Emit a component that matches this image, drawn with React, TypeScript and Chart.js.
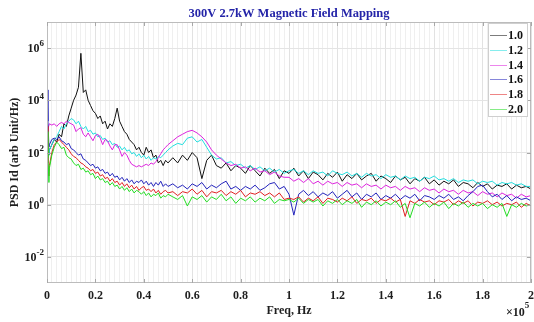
import React, { useEffect, useRef } from "react";
import { Chart, registerables } from "chart.js";

Chart.register(...registerables);

const TITLE = "300V 2.7kW Magnetic Field Mapping";
const X_LABEL = "Freq, Hz";
const Y_LABEL = "PSD Id (arb Unit/Hz)";
const X_EXP_LABEL = "5";
const SERIES_LABELS = ["1.0", "1.2", "1.4", "1.6", "1.8", "2.0"];
const SERIES_COLORS = ["#111111", "#22dede", "#dd22dd", "#2222bb", "#e02020", "#22dd22"];
const Y_TICK_EXPONENTS = [-2, 0, 2, 4, 6];
const Y_MIN = 1e-3;
const Y_MAX = 1e7;
const X_MAX = 2e5;
const X_MAJOR_STEP = 2e4;
const X_MINOR_STEP = 2e3;

// frequency, in units of 1e5 Hz
const FREQ_E5 = [
  0, 0.004, 0.008,
  0.01, 0.02, 0.03, 0.04, 0.05, 0.06, 0.07, 0.08, 0.09, 0.10,
  0.11, 0.12, 0.13, 0.14, 0.15, 0.16, 0.17, 0.18, 0.19, 0.20,
  0.21, 0.22, 0.23, 0.24, 0.25, 0.26, 0.27, 0.28, 0.29, 0.30,
  0.31, 0.32, 0.33, 0.34, 0.35, 0.36, 0.37, 0.38, 0.39, 0.40,
  0.41, 0.42, 0.43, 0.44, 0.45, 0.46, 0.47, 0.48, 0.49, 0.50,
  0.52, 0.54, 0.56, 0.58, 0.60, 0.62, 0.64, 0.66, 0.68, 0.70,
  0.72, 0.74, 0.76, 0.78, 0.80, 0.82, 0.84, 0.86, 0.88, 0.90,
  0.92, 0.94, 0.96, 0.98, 1.00, 1.02, 1.04, 1.06, 1.08, 1.10,
  1.12, 1.14, 1.16, 1.18, 1.20, 1.22, 1.24, 1.26, 1.28, 1.30,
  1.32, 1.34, 1.36, 1.38, 1.40, 1.42, 1.44, 1.46, 1.48, 1.50,
  1.52, 1.54, 1.56, 1.58, 1.60, 1.62, 1.64, 1.66, 1.68, 1.70,
  1.72, 1.74, 1.76, 1.78, 1.80, 1.82, 1.84, 1.86, 1.88, 1.90,
  1.92, 1.94, 1.96, 1.98, 2.00,
];

// log10 of PSD for each series
const LOG_PSD_10 = [
  2.8, 2.2, 1.9,
  2.1, 2.3, 2.5, 2.4, 2.7, 2.6, 3.1, 3.0, 3.4, 3.7,
  4.0, 4.2, 4.5, 5.8, 4.3, 4.4, 4.0, 3.8, 3.6, 3.5,
  3.3, 3.4, 3.1, 3.2, 2.9, 3.1, 3.0, 3.3, 3.7, 3.2,
  3.0, 2.8, 2.7, 2.5, 2.4, 2.3, 2.1, 2.2, 2.0, 1.9,
  2.2, 2.0, 2.1, 1.8, 1.9, 1.6, 1.7, 1.5, 1.7, 1.6,
  1.8, 1.6, 1.9, 1.7, 2.0, 1.8, 1.0, 1.7, 1.9, 1.5,
  1.4, 1.6, 1.3, 1.5, 1.4, 1.2, 1.5, 1.3, 1.1, 1.4,
  1.2, 1.35, 1.0, 1.3, 1.2, 1.4, 1.1, 1.3, 1.0, 1.25,
  1.15, 0.95, 1.2, 1.05, 1.25, 0.9, 1.15, 1.0, 1.2, 0.95,
  1.1, 1.2, 0.9, 1.1, 1.0, 0.85, 1.1, 0.95, 1.05, 0.8,
  1.0, 0.9, 1.05, 0.8, 0.95, 0.75, 0.9, 0.8, 0.95, 0.7,
  0.85, 0.8, 0.65, 0.85, 0.7, 0.8, 0.6, 0.75, 0.7, 0.8,
  0.6, 0.75, 0.65, 0.7, 0.6,
];

const LOG_PSD_12 = [
  2.6, 2.0, 1.9,
  2.1, 2.3, 2.5, 2.6, 2.8, 3.0, 2.9, 3.1, 3.2, 3.3,
  3.25, 3.1, 3.2, 3.0, 2.9, 3.0, 2.8, 2.85, 2.7, 2.75,
  2.6, 2.65, 2.5, 2.55, 2.4, 2.45, 2.3, 2.35, 2.2, 2.25,
  2.1, 2.2, 2.05, 2.1, 1.95, 2.0, 1.85, 1.95, 1.8, 1.9,
  1.75, 1.85, 1.7, 1.8, 1.75, 1.85, 1.8, 1.9, 2.0, 2.1,
  2.25, 2.35, 2.3, 2.55, 2.6, 2.4, 2.5, 2.2, 1.9, 1.75,
  1.8, 1.6, 1.65, 1.5, 1.55, 1.4, 1.5, 1.35, 1.45, 1.3,
  1.4, 1.25, 1.35, 1.2, 1.3, 1.35, 1.2, 1.3, 1.15, 1.3,
  1.2, 1.25, 1.1, 1.3, 1.2, 1.15, 1.25, 1.1, 1.2, 1.05,
  1.2, 1.1, 1.15, 1.0, 1.15, 1.05, 1.1, 0.95, 1.1, 1.0,
  1.05, 0.9, 1.05, 1.0, 1.1, 0.95, 1.0, 0.9, 1.0, 0.85,
  0.95, 0.9, 0.95, 0.8, 0.9, 0.85, 0.9, 0.75, 0.85, 0.8,
  0.85, 0.75, 0.8, 0.7, 0.7,
];

const LOG_PSD_14 = [
  2.2, 2.9, 3.05,
  3.1, 3.05, 3.1, 3.0, 3.1, 3.15, 3.1, 3.2, 3.15, 3.1,
  3.05, 2.8, 2.9, 2.95, 2.7, 2.6, 2.75, 2.6, 2.45, 2.65,
  2.7, 2.55, 2.3, 2.5, 2.45, 2.25, 2.1, 2.3, 2.3, 2.1,
  1.85, 2.0, 1.9, 1.7, 1.55, 1.5, 1.45, 1.5, 1.45, 1.5,
  1.55, 1.5, 1.6, 1.55, 1.65, 1.8, 1.95, 2.1, 2.2, 2.3,
  2.45, 2.6, 2.7, 2.8, 2.85, 2.75, 2.6, 2.4, 2.1, 1.9,
  1.75, 1.6, 1.5, 1.55, 1.4, 1.45, 1.3, 1.4, 1.25, 1.3,
  1.15, 1.25, 1.1, 1.05, 1.05, 0.9, 1.0, 0.85, 1.0, 0.8,
  0.9, 0.75, 0.9, 0.8, 0.85, 0.7, 0.85, 0.75, 0.8, 0.65,
  0.8, 0.7, 0.75, 0.6, 0.75, 0.65, 0.7, 0.55, 0.7, 0.6,
  0.65, 0.5, 0.65, 0.55, 0.6, 0.45, 0.6, 0.5, 0.55, 0.4,
  0.55, 0.45, 0.5, 0.35, 0.5, 0.4, 0.45, 0.3, 0.45, 0.35,
  0.4, 0.25, 0.4, 0.3, 0.35,
];

const LOG_PSD_16 = [
  4.4, 3.2, 2.2,
  2.3, 2.5, 2.55, 2.5, 2.6, 2.45, 2.4, 2.3, 2.35, 2.15,
  2.1, 2.0, 1.9, 1.95, 1.75, 1.7, 1.6, 1.5, 1.55, 1.4,
  1.45, 1.3, 1.35, 1.2, 1.25, 1.1, 1.2, 1.05, 1.1, 0.95,
  1.05, 0.9, 1.0, 0.85, 0.95, 0.8, 0.9, 0.85, 0.95, 0.8,
  0.9, 0.75, 0.85, 0.7, 0.85, 0.75, 0.9, 0.7, 0.8, 0.7,
  0.8, 0.65, 0.75, 0.6, 0.8, 0.7, 0.85, 0.6, 0.75, 0.65,
  0.8, 0.9, 0.6, 0.7, 0.55, 0.7, 0.6, 0.75, 0.55, 0.65,
  0.8, 0.85, 0.6, 0.7, 0.4, -0.4, 0.4, 0.55, 0.35, 0.5,
  0.3, 0.45, 0.35, 0.5, 0.25, 0.4, 0.55, 0.3, 0.45, 0.2,
  0.4, 0.3, 0.45, 0.2, 0.35, 0.25, 0.4, 0.2, 0.35, 0.25,
  0.4, 0.15, 0.35, 0.3, 0.2, 0.35, 0.25, 0.4, 0.2, 0.3,
  0.15, 0.35, 0.5, 0.7, 0.75, 0.5, 0.3, 0.4, 0.2, 0.35,
  0.15, 0.3, 0.2, 0.25, 0.15,
];

const LOG_PSD_18 = [
  3.0, 1.6, 1.1,
  1.5, 2.0, 2.3, 2.4, 2.5, 2.4, 2.3, 2.2, 2.1, 1.95,
  1.85, 1.8, 1.7, 1.6, 1.55, 1.45, 1.4, 1.3, 1.35, 1.2,
  1.25, 1.1, 1.15, 1.0, 1.05, 0.9, 1.0, 0.85, 0.9, 0.75,
  0.85, 0.7, 0.8, 0.65, 0.75, 0.6, 0.7, 0.55, 0.65, 0.7,
  0.55, 0.6, 0.5, 0.6, 0.45, 0.55, 0.4, 0.5, 0.55, 0.45,
  0.5, 0.35, 0.5, 0.45, 0.6, 0.4, 0.55, 0.3, 0.5, 0.45,
  0.55, 0.35, 0.5, 0.4, 0.55, 0.3, 0.45, 0.4, 0.5, 0.35,
  0.45, 0.3, 0.45, 0.2, 0.25, 0.2, 0.3, 0.1, 0.25, 0.15,
  0.3, 0.05, 0.25, 0.2, 0.1, 0.25, 0.15, 0.3, 0.05, 0.2,
  0.15, 0.25, 0.05, 0.2, 0.15, 0.25, 0.1, 0.2, -0.45, 0.15,
  0.05, 0.2, 0.1, 0.15, 0.0, 0.15, 0.1, 0.2, 0.0, 0.15,
  0.05, 0.15, -0.05, 0.1, 0.05, 0.15, 0.0, 0.1, -0.05, 0.05,
  0.0, 0.1, -0.1, 0.05, -0.05,
];

const LOG_PSD_20 = [
  2.8, 1.8, 0.85,
  1.4, 1.9, 2.2, 2.4, 2.3, 2.15, 2.2, 1.9, 1.8, 1.75,
  1.6, 1.5, 1.55, 1.35, 1.4, 1.25, 1.3, 1.15, 1.2, 1.0,
  1.1, 0.95, 1.0, 0.85, 0.9, 0.75, 0.85, 0.7, 0.75, 0.6,
  0.7, 0.55, 0.65, 0.5, 0.6, 0.45, 0.55, 0.5, 0.4, 0.5,
  0.35, 0.45, 0.3, 0.4, 0.35, 0.45, 0.25, 0.35, 0.3, 0.4,
  0.3, 0.2, 0.35, -0.05, 0.3, 0.2, 0.35, 0.1, 0.3, 0.2,
  0.4, 0.15, 0.3, 0.05, 0.25, 0.15, 0.3, 0.1, 0.25, 0.15,
  0.3, 0.05, 0.2, 0.15, 0.2, 0.1, 0.25, 0.05, 0.2, 0.1,
  0.2, -0.05, 0.15, 0.05, 0.2, 0.0, 0.15, 0.05, 0.2, -0.1,
  0.1, 0.0, 0.15, -0.05, 0.1, 0.0, 0.15, -0.1, 0.05, -0.5,
  0.05, -0.05, 0.1, -0.1, 0.05, -0.05, 0.1, -0.15, 0.05, -0.05,
  0.1, -0.1, 0.05, -0.05, 0.05, -0.15, 0.0, -0.1, 0.05, -0.45,
  0.0, -0.1, 0.05, -0.05, 0.0,
];

const SERIES_LOG_VALUES = [LOG_PSD_10, LOG_PSD_12, LOG_PSD_14, LOG_PSD_16, LOG_PSD_18, LOG_PSD_20];

const SERIF = '"Liberation Serif", "Times New Roman", serif';
const W = 534;
const H = 322;

const decorations = {
  id: "decorations",
  afterDraw(chart: any) {
    const { ctx, chartArea: a, scales } = chart;
    const xs = scales.x;
    const ys = scales.y;
    ctx.save();

    // axes box
    ctx.strokeStyle = "#bcbcbc";
    ctx.lineWidth = 1;
    ctx.strokeRect(a.left + 0.5, a.top + 0.5, a.right - a.left - 1, a.bottom - a.top - 1);

    // inward tick marks
    ctx.strokeStyle = "#a8a8a8";
    ctx.beginPath();
    for (let v = 0; v <= X_MAX; v += X_MAJOR_STEP) {
      const px = Math.round(xs.getPixelForValue(v)) + 0.5;
      ctx.moveTo(px, a.bottom);
      ctx.lineTo(px, a.bottom - 4);
      ctx.moveTo(px, a.top);
      ctx.lineTo(px, a.top + 4);
    }
    Y_TICK_EXPONENTS.forEach((e) => {
      const py = Math.round(ys.getPixelForValue(Math.pow(10, e))) + 0.5;
      ctx.moveTo(a.left, py);
      ctx.lineTo(a.left + 4, py);
      ctx.moveTo(a.right, py);
      ctx.lineTo(a.right - 4, py);
    });
    ctx.stroke();

    // y tick labels 10^n
    ctx.fillStyle = "#1e1e1e";
    ctx.textBaseline = "middle";
    Y_TICK_EXPONENTS.forEach((e) => {
      const py = ys.getPixelForValue(Math.pow(10, e));
      const expText = String(e);
      ctx.font = `bold 9px ${SERIF}`;
      const ew = ctx.measureText(expText).width;
      const rightX = a.left - 3;
      ctx.textAlign = "right";
      ctx.fillText(expText, rightX, py - 4);
      ctx.font = `bold 12px ${SERIF}`;
      ctx.fillText("10", rightX - ew, py + 1);
    });

    // title
    ctx.fillStyle = "#2424a8";
    ctx.font = `bold 12.5px ${SERIF}`;
    ctx.textAlign = "center";
    ctx.fillText(TITLE, (a.left + a.right) / 2, 14);

    // x label
    ctx.fillStyle = "#1e1e1e";
    ctx.font = `bold 12px ${SERIF}`;
    ctx.fillText(X_LABEL, (a.left + a.right) / 2, 311);

    // x exponent multiplier
    ctx.textAlign = "left";
    ctx.fillText("\u00d710", 506, 313);
    const mw = ctx.measureText("\u00d710").width;
    ctx.font = `bold 9px ${SERIF}`;
    ctx.fillText(X_EXP_LABEL, 506 + mw, 306);

    // y label
    ctx.save();
    ctx.translate(15, (a.top + a.bottom) / 2);
    ctx.rotate(-Math.PI / 2);
    ctx.textAlign = "center";
    ctx.font = `bold 12px ${SERIF}`;
    ctx.fillText(Y_LABEL, 0, 0);
    ctx.restore();

    // legend
    const lx = 488;
    const ly = 23;
    const lw = 40;
    const lh = 94;
    ctx.fillStyle = "#ffffff";
    ctx.fillRect(lx, ly, lw, lh);
    ctx.strokeStyle = "#cfcfcf";
    ctx.strokeRect(lx + 0.5, ly + 0.5, lw - 1, lh - 1);
    chart.data.datasets.forEach((ds: any, i: number) => {
      const y = ly + 12 + i * 14.8;
      ctx.save();
      ctx.globalAlpha = 0.55;
      ctx.strokeStyle = ds.borderColor;
      ctx.lineWidth = 1;
      ctx.beginPath();
      ctx.moveTo(490, Math.round(y) + 0.5);
      ctx.lineTo(507, Math.round(y) + 0.5);
      ctx.stroke();
      ctx.restore();
      ctx.fillStyle = "#111111";
      ctx.font = `bold 12px ${SERIF}`;
      ctx.textAlign = "left";
      ctx.textBaseline = "middle";
      ctx.fillText(ds.label, 508, y + 1);
    });

    ctx.restore();
  },
};

export default function App() {
  const canvasRef = useRef<HTMLCanvasElement | null>(null);

  useEffect(() => {
    if (!canvasRef.current) return;
    const datasets = SERIES_LABELS.map((label, i) => ({
      label,
      data: SERIES_LOG_VALUES[i].map((v, j) => ({ x: FREQ_E5[j] * 1e5, y: Math.pow(10, v) })),
      borderColor: SERIES_COLORS[i],
      backgroundColor: SERIES_COLORS[i],
      borderWidth: 1,
      pointRadius: 0,
      tension: 0,
      fill: false,
      order: -i,
    }));

    const chart = new Chart(canvasRef.current, {
      type: "line",
      data: { datasets },
      options: {
        animation: false,
        responsive: false,
        devicePixelRatio: 1,
        layout: { padding: { top: 22, right: 3, left: 0, bottom: 0 } },
        plugins: {
          legend: { display: false },
          title: { display: false },
          tooltip: { enabled: false },
        },
        scales: {
          x: {
            type: "linear",
            min: 0,
            max: X_MAX,
            afterFit: (s: any) => {
              s.height = 39;
              s.paddingLeft = 0;
              s.paddingRight = 0;
            },
            border: { display: false },
            grid: {
              drawTicks: false,
              color: (c: any) =>
                c.tick && Math.abs(c.tick.value % X_MAJOR_STEP) < 1e-6 ? "#e2e2e2" : "#efefef",
            },
            ticks: {
              stepSize: X_MINOR_STEP,
              autoSkip: false,
              maxRotation: 0,
              minRotation: 0,
              padding: 6,
              color: "#1e1e1e",
              font: { family: SERIF, size: 12, weight: "bold" },
              callback: (v: any) =>
                Math.abs(Number(v) % X_MAJOR_STEP) < 1e-6 ? String(Number(v) / 1e5) : "",
            },
          },
          y: {
            type: "logarithmic",
            min: Y_MIN,
            max: Y_MAX,
            afterFit: (s: any) => {
              s.width = 47;
              s.paddingTop = 0;
              s.paddingBottom = 0;
            },
            afterBuildTicks: (s: any) => {
              s.ticks = Y_TICK_EXPONENTS.map((e) => ({ value: Math.pow(10, e) }));
            },
            border: { display: false },
            grid: { drawTicks: false, color: "#e4e4e4" },
            ticks: { display: false },
          },
        },
      },
      plugins: [decorations],
    } as any);

    return () => chart.destroy();
  }, []);

  return (
    <div style={{ position: "absolute", left: 0, top: 0, width: W, height: H, background: "#ffffff" }}>
      <canvas ref={canvasRef} width={W} height={H} style={{ width: W, height: H, display: "block" }} />
    </div>
  );
}
